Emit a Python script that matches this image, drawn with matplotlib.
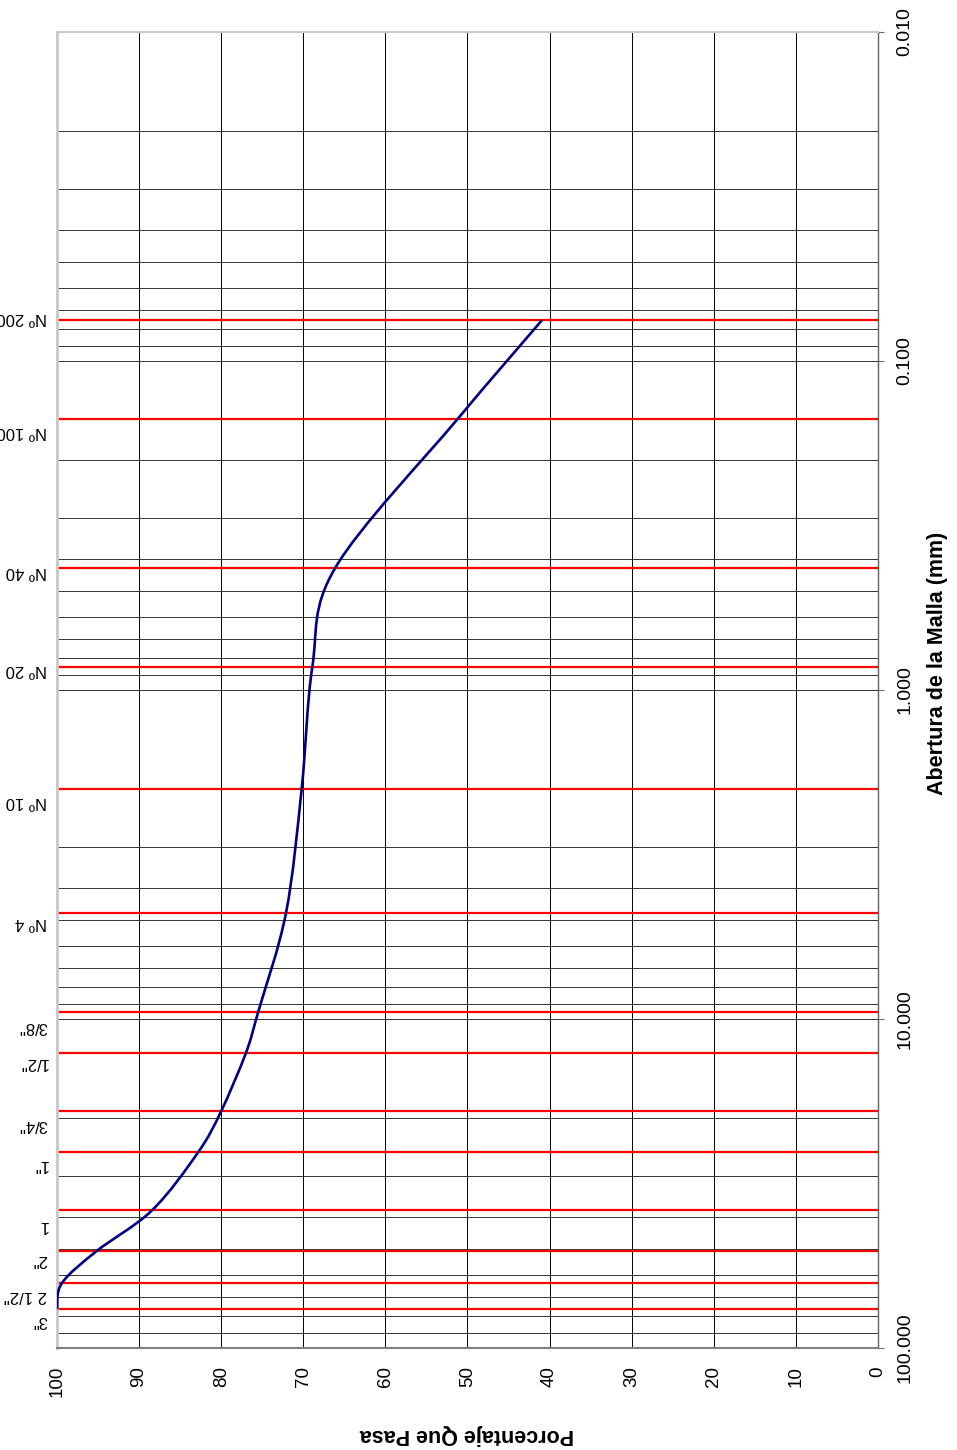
"""
Curva granulométrica: porcentaje que pasa vs abertura de malla (escala log),
dibujada en vertical con las mallas marcadas en rojo.
"""

import matplotlib
matplotlib.use("Agg")
import matplotlib.pyplot as plt
import numpy as np
from matplotlib.patches import PathPatch
from matplotlib.path import Path
from matplotlib.ticker import LogLocator, NullFormatter

plt.rcParams["font.family"] = ["Liberation Sans", "DejaVu Sans"]

# Mallas (mm), nombres y porcentaje que pasa
sieve_mm = [76.2, 63.5, 50.8, 38.1, 25.4, 19.05, 12.7, 9.525,
            4.75, 2.0, 0.85, 0.425, 0.15, 0.075]
sieve_names = ['3"', '2 1/2"', '2"', '1', '1"', '3/4"', '1/2"', '3/8"',
               "Nº 4", "Nº 10", "Nº 20", "Nº 40", "Nº 100", "Nº 200"]
percent_passing = [100.0, 99.4, 95.2, 88.4, 82.8, 80.0, 77.0, 75.5,
                   72.1, 70.2, 68.9, 66.1, 51.2, 40.9]

size_ticks = [100, 10, 1, 0.1, 0.01]
pct_ticks = list(range(0, 101, 10))

# desplazamiento vertical (px) de cada nombre de malla bajo su línea
label_drop = [11, 12, 8, 15, 12, 13, 9, 14, 10, 12, 3, 4, 13, -2]


def smooth_path(pct, mm):
    """Bezier (Catmull-Rom) through the points, built in (%, log10 mm)."""
    px = np.asarray(pct, float)
    py = np.log10(np.asarray(mm, float))
    n = len(px)
    verts = [(px[0], py[0])]
    codes = [Path.MOVETO]
    for i in range(n - 1):
        i0 = max(i - 1, 0)
        i3 = min(i + 2, n - 1)
        c1 = (px[i] + (px[i + 1] - px[i0]) / 6, py[i] + (py[i + 1] - py[i0]) / 6)
        c2 = (px[i + 1] - (px[i3] - px[i]) / 6, py[i + 1] - (py[i3] - py[i]) / 6)
        verts += [c1, c2, (px[i + 1], py[i + 1])]
        codes += [Path.CURVE4] * 3
    verts = [(vx, 10 ** vy) for vx, vy in verts]
    return Path(verts, codes)


fig = plt.figure(figsize=(9.57, 14.5), dpi=100)
ax = fig.add_axes([57 / 957, 102 / 1450, 821 / 957, 1316 / 1450])

ax.set_yscale("log")
ax.set_ylim(100, 0.01)
ax.set_xlim(100, 0)

# eje de aberturas a la derecha
ax.yaxis.tick_right()
ax.set_yticks(size_ticks)
ax.set_yticklabels([f"{t:.3f}" for t in size_ticks])
ax.yaxis.set_minor_locator(LogLocator(base=10, subs=np.arange(2, 10), numticks=20))
ax.yaxis.set_minor_formatter(NullFormatter())
ax.tick_params(axis="y", which="major", direction="out", length=4.5,
               color="#707070", pad=8.5, labelsize=14, labelrotation=90)
ax.tick_params(axis="y", which="minor", length=0)
plt.setp(ax.get_yticklabels(), va="center", ha="left")

ax.set_xticks(pct_ticks)
ax.tick_params(axis="x", length=0, pad=13, labelsize=13.5, labelrotation=90)
plt.setp(ax.get_xticklabels(), ha="center", va="top")

ax.set_axisbelow(True)
ax.grid(True, which="major", axis="x", color="black", lw=0.7)
ax.grid(True, which="both", axis="y", color="#333333", lw=0.7)

for side, color, lw in [("top", "#c8c8c8", 1.5), ("left", "#c8c8c8", 2.0),
                        ("right", "#606060", 1.0), ("bottom", "#808080", 1.5)]:
    ax.spines[side].set_color(color)
    ax.spines[side].set_linewidth(lw)

for s in sieve_mm:
    ax.axhline(s, color="#ff0000", lw=1.6, zorder=2)

ax.add_patch(PathPatch(smooth_path(percent_passing, sieve_mm), facecolor="none",
                       edgecolor="#000080", lw=1.9, zorder=3))

for s, name, dy in zip(sieve_mm, sieve_names, label_drop):
    ax.annotate(name, xy=(0, s), xycoords=("axes fraction", "data"),
                xytext=(-7, -dy * 0.72), textcoords="offset points",
                rotation=180, ha="right", va="center", fontsize=12)

fig.text(467 / 957, 1 - 1434 / 1450, "Porcentaje Que Pasa", rotation=180,
         ha="center", va="center", fontsize=15.5, fontweight="bold")
fig.text(937 / 957, 1 - 663 / 1450, "Abertura de la Malla (mm)", rotation=90,
         ha="center", va="center", fontsize=15.5, fontweight="bold")

fig.savefig("out.png", dpi=100)
